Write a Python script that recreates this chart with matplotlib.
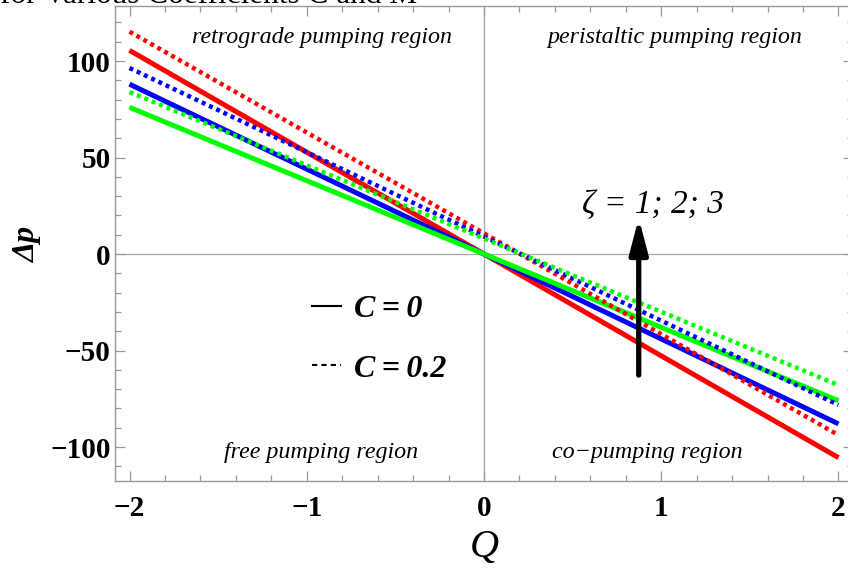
import matplotlib
matplotlib.use("Agg")
import matplotlib.pyplot as plt
from matplotlib.lines import Line2D
from matplotlib.ticker import MultipleLocator

# ---- data ----
Q = [-2, 2]
red_solid = [105.5, -105.5]
blue_solid = [88, -88]
green_solid = [76, -76]
red_dotted = [115.2, -93.8]
blue_dotted = [96.4, -78.2]
green_dotted = [83.9, -67.9]

x_ticks = [-2, -1, 0, 1, 2]
y_ticks = [-100, -50, 0, 50, 100]
x_labels = ["\u22122", "\u22121", "0", "1", "2"]
y_labels = ["\u2212100", "\u221250", "0", "50", "100"]

SERIF = ["Liberation Serif", "DejaVu Serif"]
plt.rcParams['font.family'] = SERIF

fig = plt.figure(figsize=(8.48, 5.73), dpi=100)
W, H = 848, 573
ax = fig.add_axes([115 / W, (H - 481) / H, (853 - 115) / W, (481 - 6) / H])
ax.set_xlim(-2.082, 2.082)
ax.set_ylim(-117.6, 128.5)

# axes lines
ax.axhline(0, color='#a6a6a6', lw=0.9, zorder=1)
ax.axvline(0, color='#a6a6a6', lw=0.9, zorder=1)

lw = 3.6
ax.plot(Q, red_solid, color='#ff0000', lw=lw, solid_capstyle='butt', zorder=3)
ax.plot(Q, blue_solid, color='#0000ff', lw=lw, solid_capstyle='butt', zorder=3)
ax.plot(Q, green_solid, color='#00ff00', lw=lw, solid_capstyle='butt', zorder=3)
dls = (0, (0.9, 0.9))
ax.plot(Q, red_dotted, color='#ff0000', lw=3.2, ls=dls, dash_capstyle='butt', zorder=3)
ax.plot(Q, blue_dotted, color='#0000ff', lw=3.2, ls=dls, dash_capstyle='butt', zorder=3)
ax.plot(Q, green_dotted, color='#00ff00', lw=3.2, ls=dls, dash_capstyle='butt', zorder=3)

# spines & ticks
for s in ax.spines.values():
    s.set_color('#999999')
    s.set_linewidth(1.0)
ax.set_xticks(x_ticks)
ax.set_xticklabels(x_labels)
ax.set_yticks(y_ticks)
ax.set_yticklabels(y_labels)
ax.xaxis.set_minor_locator(MultipleLocator(0.2))
ax.yaxis.set_minor_locator(MultipleLocator(10))
ax.tick_params(which='both', direction='in', color='#999999', top=True, right=True,
               width=0.9)
ax.tick_params(which='major', length=7)
ax.tick_params(which='minor', length=4)
for lab in ax.get_xticklabels() + ax.get_yticklabels():
    lab.set_fontweight('bold')
    lab.set_fontsize(21)
ax.tick_params(axis='x', pad=10)
ax.tick_params(axis='y', pad=3)

ax.set_xlabel("Q", fontsize=29, style='italic')
ax.xaxis.set_label_coords(0.5, (481 - 529) / 475)
ax.xaxis.label.set_va('top')
ax.set_ylabel("\u0394p", fontsize=23, style='italic', fontweight='bold')
ax.yaxis.set_label_coords((42 - 115) / 738, (481 - 245) / 475)

# region labels
rk = dict(fontsize=17.3, style='italic', ha='center', va='center')
ax.text(-0.914, 112.4, "retrograde pumping region", **rk)
ax.text(1.077, 112.4, "peristaltic pumping region", **rk)
ax.text(-0.92, -103, "free pumping region", **rk)
ax.text(0.92, -103, "co\u2212pumping region", **rk)

# arrow and zeta label
ax.annotate("", xy=(0.873, 18.7), xytext=(0.873, -62.7),
            arrowprops=dict(arrowstyle='-|>,head_length=2.1,head_width=0.55',
                            color='black', lw=3.8, shrinkA=0, shrinkB=0), zorder=5)
ax.text(0.955, 25.4, "\u03b6 = 1; 2; 3", fontsize=24, style='italic',
        ha='center', va='center', zorder=6)

# legend
handles = [Line2D([], [], color='black', lw=1.5),
           Line2D([], [], color='black', lw=1.5, ls=(0, (2.5, 2)))]
leg = ax.legend(handles, ["C\u2009=\u20090", "C\u2009=\u20090.2"], loc='center left',
                bbox_to_anchor=((312 - 115) / 738, (481 - 339) / 475),
                frameon=False, handlelength=0.9, handletextpad=0.42,
                labelspacing=0.95, borderpad=0, borderaxespad=0,
                prop=dict(family=SERIF, size=23, style='italic', weight='bold'))

# cut-off title at the very top
fig.text(0.0, 1 - 3 / H, "for Various Coefficients C and M", fontsize=22.5,
         ha='left', va='baseline')

fig.savefig("out.png", dpi=100)
